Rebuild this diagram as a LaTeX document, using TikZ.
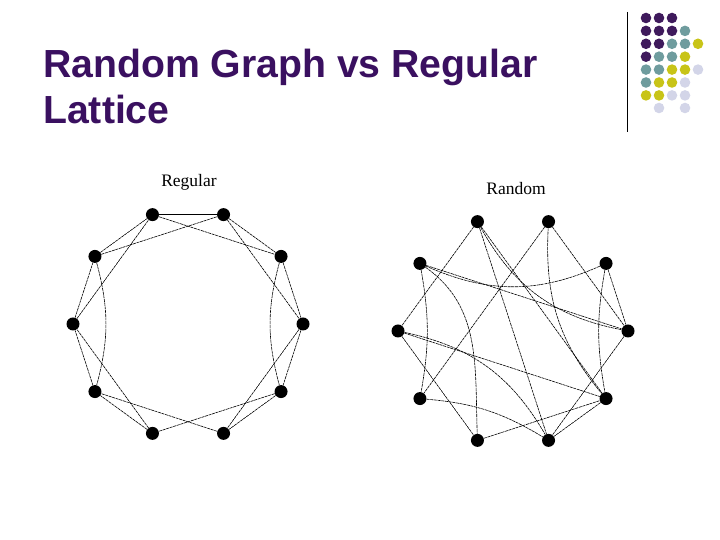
\documentclass[tikz,border=0pt]{standalone}
\usepackage{fontspec}
\setmainfont{Liberation Serif}
\newfontfamily\headfont{Liberation Sans}
\usepackage{tikz}
\definecolor{plum}{HTML}{3A1060}
\definecolor{dotP}{HTML}{3F1A5C}
\definecolor{dotT}{HTML}{6F9C9E}
\definecolor{dotY}{HTML}{C8C418}
\definecolor{dotL}{HTML}{D3D5E8}
\tikzset{
  vertex/.style={circle, fill=black, inner sep=0pt, minimum size=13pt},
  edge/.style={draw=black, line width=0.6pt, dash pattern=on 3pt off 0.7pt},
  solidedge/.style={draw=black, line width=0.8pt},
  caption/.style={font=\fontsize{17.5}{20}\selectfont, inner sep=0pt, anchor=base},
  heading/.style={font=\headfont\bfseries\fontsize{39.2}{46}\selectfont, text=plum,
                  inner sep=0pt, anchor=base west},
}

\begin{document}
\begin{tikzpicture}[x=1pt, y=1pt]
    \useasboundingbox (0,0) rectangle (720,540);
    % title
    \node[heading] (title) at (43,462) {Random Graph vs Regular};
    \node[heading] (title2) at (43,416) {Lattice};
    % corner decoration
    \draw[line width=1pt] (627,528) -- (627,408);
    \foreach \r/\cols in {1/{dotP,dotP,dotP}, 2/{dotP,dotP,dotP,dotT},
        3/{dotP,dotP,dotT,dotT,dotY}, 4/{dotP,dotT,dotT,dotY},
        5/{dotT,dotT,dotY,dotY,dotL}, 6/{dotT,dotY,dotY,dotL},
        7/{dotY,dotY,dotL,dotL}}
      \foreach \c [count=\k] in \cols
        \fill[\c] ({646+13*(\k-1)},{522-12.9*(\r-1)}) circle (5.3);
    \fill[dotL] (659,432) circle (5.3);
    \fill[dotL] (685,432) circle (5.3);
    % regular lattice
    \node[caption] (regcap) at (189,353) {Regular};
    \begin{scope}[shift={(188,216)}]
      \foreach \i in {1,...,10}
        \node[vertex] (reg\i) at ({144-36*\i}:115pt) {};
    \end{scope}
    \draw[solidedge] (reg1) -- (reg2);
    \foreach \i/\j in {2/3,3/4,4/5,5/6,7/8,8/9,9/10,10/1,
                       1/3,2/4,4/6,5/7,6/8,7/9,9/1,10/2}
      \draw[edge] (reg\i) -- (reg\j);
    \draw[edge] (reg3) to[bend right=15] (reg5);
    \draw[edge] (reg10) to[bend left=15] (reg8);
    % random graph
    \node[caption] (rndcap) at (516,345) {Random};
    \begin{scope}[shift={(513,209)}]
      \foreach \i in {1,...,10}
        \node[vertex] (rnd\i) at ({144-36*\i}:115pt) {};
    \end{scope}
    \foreach \i/\j in {1/9,1/6,1/5,2/8,2/4,3/4,10/4,4/6,9/5,9/7,7/5,5/6}
      \draw[edge] (rnd\i) -- (rnd\j);
    \draw[edge] (rnd1) to[bend right=25] (rnd4);
    \draw[edge] (rnd2) to[out=-93, in=130] (rnd5);
    \draw[edge] (rnd3) to[bend left=24] (rnd10);
    \draw[edge] (rnd3) to[bend right=10] (rnd5);
    \draw[edge] (rnd9) to[out=-12, in=120] (rnd6);
    \draw[edge] (rnd10) to[bend left=10] (rnd8);
    \draw[edge] (rnd10) to[out=-35, in=92] (rnd7);
    \draw[edge] (rnd8) to[bend left=13] (rnd6);
  \end{tikzpicture}
\end{document}
